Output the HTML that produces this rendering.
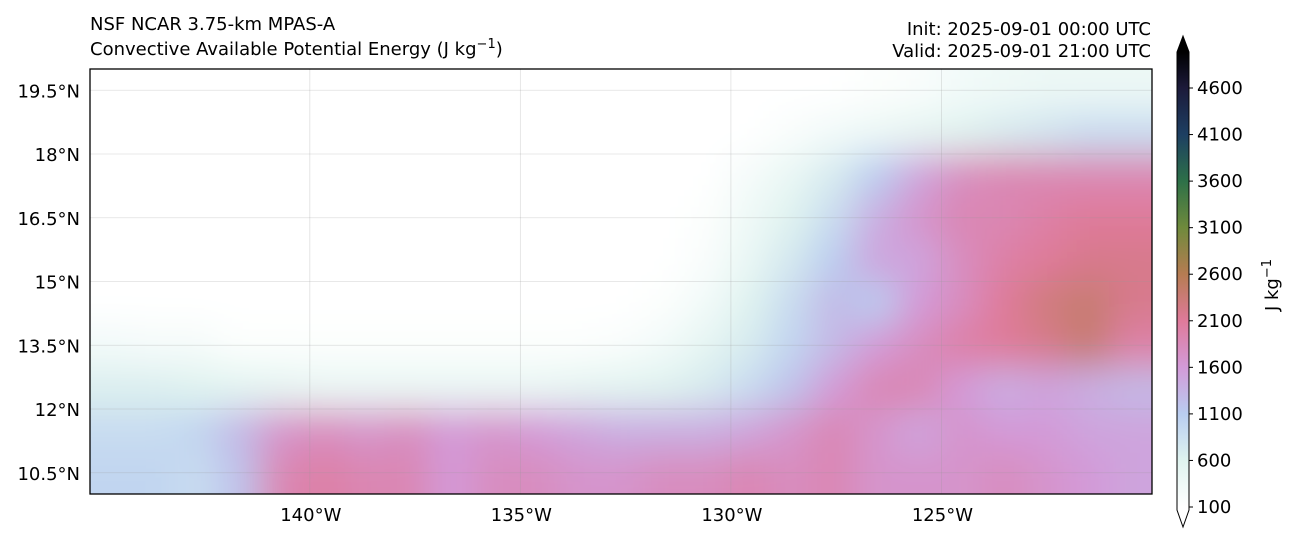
<!DOCTYPE html>
<html><head><meta charset="utf-8"><style>
body{margin:0;background:#fff;font-family:"Liberation Sans",sans-serif}
svg text{font-family:"DejaVu Sans","Liberation Sans",sans-serif;font-size:18px;fill:#000}
</style></head><body>
<svg id="s" width="1299" height="542" viewBox="0 0 1299 542">
<defs>
<clipPath id="pc"><rect x="90" y="69" width="1062" height="425"/></clipPath>
<filter id="bl" x="-10%" y="-10%" width="120%" height="120%"><feGaussianBlur stdDeviation="18"/></filter>
<linearGradient id="cbg" x1="0" y1="1" x2="0" y2="0"></linearGradient>
</defs>
<text x="90" y="30">NSF NCAR 3.75-km MPAS-A</text>
<text x="90" y="55">Convective Available Potential Energy (J kg<tspan dy="-7" font-size="13">−1</tspan><tspan dy="7">)</tspan></text>
<text x="1151" y="35" text-anchor="end">Init: 2025-09-01 00:00 UTC</text>
<text x="1151" y="57" text-anchor="end">Valid: 2025-09-01 21:00 UTC</text>
<g id="field" clip-path="url(#pc)"><rect x="90" y="69" width="1062" height="425" fill="#fff"/><g id="cells" filter="url(#bl)"></g></g>
<g id="grid"></g>
<rect x="90" y="69" width="1062" height="425" fill="none" stroke="#000" stroke-width="1.3"/>
<g id="axes"></g>
<g id="cbar"></g>
</svg>
<script>
const lonTicks=[-140,-135,-130,-125];
const latTicks=[10.5,12,13.5,15,16.5,18,19.5];
const cbTicks=[100,600,1100,1600,2100,2600,3100,3600,4100,4600];
const cmapVals=[100,600,1100,1600,2100,2600,3100,3600,4100,4600,5000];
const cmapCols=["#ffffff","#dff3ef","#b9cdf0","#d39ad8","#df7a9a","#b67c52","#6f8a3c","#2d7048","#1d3f62","#1c1a3a","#000000"];
const rows=[
[100,100,100,100,100,100,100,100,100,100,100,100,100,100,100,100,100,100,150,200,300,350,400,400,400],
[100,100,100,100,100,100,100,100,100,100,100,100,100,100,100,100,200,300,400,500,600,700,800,900,900],
[100,100,100,100,100,100,100,100,100,100,100,100,100,100,100,250,450,700,1100,1500,1800,1900,1900,1900,1900],
[100,100,100,100,100,100,100,100,100,100,100,100,100,100,150,350,600,900,1400,1700,1900,1900,2000,2100,2100],
[100,100,100,100,100,100,100,100,100,100,100,100,100,100,200,450,750,1100,1500,1500,1800,2000,2100,2200,2200],
[100,100,100,100,100,100,100,100,100,100,100,100,100,150,300,600,900,1300,1100,1600,1800,2100,2300,2400,2200],
[300,250,250,150,150,150,150,150,150,150,150,150,200,300,500,700,1000,1300,1600,1800,2000,2100,2200,2400,2000],
[650,650,600,550,500,450,450,450,450,450,450,500,550,600,700,900,1200,1600,1900,1900,1600,1400,1500,1400,1300],
[900,900,1000,1300,1700,1800,1700,1800,1600,1700,1600,1500,1400,1400,1400,1500,1700,1900,1700,1500,1700,1600,1600,1500,1500],
[1000,1000,900,1200,1900,2000,1900,1900,1600,1800,1800,1700,1700,1800,1800,1900,1800,1900,1700,1700,1700,1800,1700,1600,1500]];
const NS="http://www.w3.org/2000/svg";
const X0=90,X1=1152,Y0=69,Y1=494,lonMin=-145.22,lonMax=-120.0,latMin=10,latMax=20;
const xs=l=>X0+(l-lonMin)/(lonMax-lonMin)*(X1-X0);
const ys=l=>Y1-(l-latMin)/(latMax-latMin)*(Y1-Y0);
function hx(h){return [1,3,5].map(i=>parseInt(h.substr(i,2),16));}
function cmap(v){
 if(v<=cmapVals[0])return cmapCols[0];
 for(let i=1;i<cmapVals.length;i++){if(v<=cmapVals[i]){const t=(v-cmapVals[i-1])/(cmapVals[i]-cmapVals[i-1]);const a=hx(cmapCols[i-1]),b=hx(cmapCols[i]);return "rgb("+a.map((c,k)=>Math.round(c+(b[k]-c)*t)).join(",")+")";}}
 return cmapCols[cmapCols.length-1];}
function mk(t,at,p){const e=document.createElementNS(NS,t);for(const k in at)e.setAttribute(k,at[k]);(p||document.getElementById('s')).appendChild(e);return e;}
const cells=document.getElementById('cells');
const nr=rows.length,nc=rows[0].length,cw=(X1-X0)/nc,ch=(Y1-Y0)/nr;
rows.forEach((r,i)=>r.forEach((v,j)=>{
 let x=X0+j*cw,y=Y0+i*ch,w=cw+1,h=ch+1;
 if(j==0){x-=50;w+=50;} if(j==nc-1)w+=50; if(i==0){y-=50;h+=50;} if(i==nr-1)h+=50;
 const e=mk('rect',{x:x,y:y,width:w,height:h,fill:cmap(v)},cells);
 
 
}));
const g=document.getElementById('grid'),ax=document.getElementById('axes');
lonTicks.forEach(l=>{const x=xs(l);
 mk('line',{x1:x,x2:x,y1:Y0,y2:Y1,stroke:'#999','stroke-opacity':0.3,'stroke-width':0.8},g);
 const t=mk('text',{x:x+1,y:521,'text-anchor':'middle'},ax);t.textContent=Math.abs(l)+'°W';
 
 });
latTicks.forEach(l=>{const y=ys(l);
 mk('line',{x1:X0,x2:X1,y1:y,y2:y,stroke:'#999','stroke-opacity':0.3,'stroke-width':0.8},g);
 const t=mk('text',{x:80,y:y+7,'text-anchor':'end'},ax);t.textContent=l+'°N';
 
 });
// colorbar
const grad=document.getElementById('cbg');
const cy=v=>507-(v-100)/4500*419;
const cbBot=510,cbTop=52;
const vAt=y=>100+(507-y)/419*4500;
const cbLo=vAt(cbBot),cbHi=vAt(cbTop);
cmapVals.forEach((v,i)=>{let o=(v-cbLo)/(cbHi-cbLo);o=Math.max(0,Math.min(1,o));mk('stop',{offset:o,'stop-color':cmapCols[i]},grad);});
const cb=document.getElementById('cbar');
const cx0=1177,cx1=1189;
mk('rect',{x:cx0,y:cbTop,width:cx1-cx0,height:cbBot-cbTop,fill:'url(#cbg)'},cb);
mk('polygon',{points:`${cx0},${cbTop} ${cx1},${cbTop} ${(cx0+cx1)/2},36`,fill:'#000'},cb);
mk('path',{d:`M${cx0},${cbTop} L${(cx0+cx1)/2},36 L${cx1},${cbTop} L${cx1},${cbBot} L${(cx0+cx1)/2},527 L${cx0},${cbBot} Z`,fill:'none',stroke:'#000','stroke-width':1},cb);
cbTicks.forEach(v=>{const y=cy(v);
 mk('line',{x1:cx1,x2:cx1+4,y1:y,y2:y,stroke:'#000'},cb);
 const t=mk('text',{x:1197,y:y+6},cb);t.textContent=v;
 
 });
const lab=mk('text',{x:1278,y:285,transform:'rotate(-90 1278 285)','text-anchor':'middle'},cb);
lab.innerHTML='J kg<tspan dy="-7" font-size="13">−1</tspan>';


</script>
</body></html>
